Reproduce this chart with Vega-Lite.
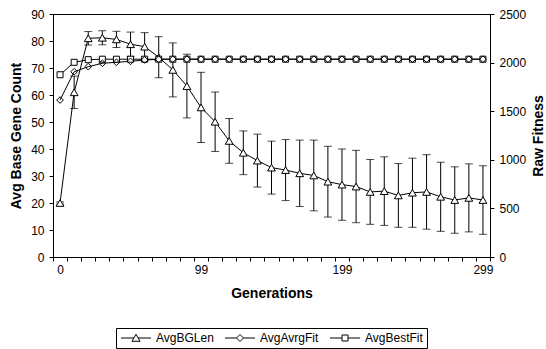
{
  "$schema": "https://vega.github.io/schema/vega-lite/v6.json",
  "width": 437,
  "height": 243,
  "autosize": {"type": "none"},
  "padding": {"left": 53, "top": 14, "right": 56, "bottom": 92},
  "background": "white",
  "config": {
    "font": "Liberation Sans",
    "view": {"stroke": "black", "strokeWidth": 1},
    "axis": {
      "grid": false,
      "domainColor": "black",
      "tickColor": "black",
      "labelColor": "black",
      "titleColor": "black",
      "labelFont": "Liberation Sans",
      "titleFont": "Liberation Sans",
      "labelFontSize": 12,
      "titleFontSize": 14,
      "titleFontWeight": "bold",
      "tickSize": 4
    }
  },
  "data": {
    "values": [
      {"gen": 0, "series": "AvgBGLen", "value": 20, "err": 0.4},
      {"gen": 9, "series": "AvgBGLen", "value": 61, "err": 6},
      {"gen": 19, "series": "AvgBGLen", "value": 81, "err": 2.5},
      {"gen": 29, "series": "AvgBGLen", "value": 81.2, "err": 2.6},
      {"gen": 39, "series": "AvgBGLen", "value": 80.6, "err": 3},
      {"gen": 49, "series": "AvgBGLen", "value": 78.8, "err": 4.5},
      {"gen": 59, "series": "AvgBGLen", "value": 77.9, "err": 5.2},
      {"gen": 69, "series": "AvgBGLen", "value": 74, "err": 7.6},
      {"gen": 79, "series": "AvgBGLen", "value": 69.3, "err": 10},
      {"gen": 89, "series": "AvgBGLen", "value": 63.3, "err": 11.8},
      {"gen": 99, "series": "AvgBGLen", "value": 55.4, "err": 13},
      {"gen": 109, "series": "AvgBGLen", "value": 50.1, "err": 11},
      {"gen": 119, "series": "AvgBGLen", "value": 43, "err": 8.3},
      {"gen": 129, "series": "AvgBGLen", "value": 38.6, "err": 8.1},
      {"gen": 139, "series": "AvgBGLen", "value": 35.7, "err": 9.8},
      {"gen": 149, "series": "AvgBGLen", "value": 33.1, "err": 9.8},
      {"gen": 159, "series": "AvgBGLen", "value": 32.2, "err": 11.3},
      {"gen": 169, "series": "AvgBGLen", "value": 31, "err": 12.3},
      {"gen": 179, "series": "AvgBGLen", "value": 30.2, "err": 13.1},
      {"gen": 189, "series": "AvgBGLen", "value": 27.9, "err": 13.1},
      {"gen": 199, "series": "AvgBGLen", "value": 26.8, "err": 13.2},
      {"gen": 209, "series": "AvgBGLen", "value": 26.1, "err": 13.4},
      {"gen": 219, "series": "AvgBGLen", "value": 24.1, "err": 12},
      {"gen": 229, "series": "AvgBGLen", "value": 24.4, "err": 12.7},
      {"gen": 239, "series": "AvgBGLen", "value": 22.8, "err": 11.8},
      {"gen": 249, "series": "AvgBGLen", "value": 23.8, "err": 12.8},
      {"gen": 259, "series": "AvgBGLen", "value": 24.1, "err": 13.8},
      {"gen": 269, "series": "AvgBGLen", "value": 22.3, "err": 12.8},
      {"gen": 279, "series": "AvgBGLen", "value": 21.1, "err": 12.3},
      {"gen": 289, "series": "AvgBGLen", "value": 21.9, "err": 12.6},
      {"gen": 299, "series": "AvgBGLen", "value": 21.1, "err": 12.7},

      {"gen": 0, "series": "AvgAvrgFit", "value": 1615},
      {"gen": 9, "series": "AvgAvrgFit", "value": 1906},
      {"gen": 19, "series": "AvgAvrgFit", "value": 1958},
      {"gen": 29, "series": "AvgAvrgFit", "value": 1993},
      {"gen": 39, "series": "AvgAvrgFit", "value": 2003},
      {"gen": 49, "series": "AvgAvrgFit", "value": 2013},
      {"gen": 59, "series": "AvgAvrgFit", "value": 2027},
      {"gen": 69, "series": "AvgAvrgFit", "value": 2034},
      {"gen": 79, "series": "AvgAvrgFit", "value": 2035},
      {"gen": 89, "series": "AvgAvrgFit", "value": 2035},
      {"gen": 99, "series": "AvgAvrgFit", "value": 2035},
      {"gen": 109, "series": "AvgAvrgFit", "value": 2035},
      {"gen": 119, "series": "AvgAvrgFit", "value": 2035},
      {"gen": 129, "series": "AvgAvrgFit", "value": 2035},
      {"gen": 139, "series": "AvgAvrgFit", "value": 2035},
      {"gen": 149, "series": "AvgAvrgFit", "value": 2035},
      {"gen": 159, "series": "AvgAvrgFit", "value": 2035},
      {"gen": 169, "series": "AvgAvrgFit", "value": 2035},
      {"gen": 179, "series": "AvgAvrgFit", "value": 2035},
      {"gen": 189, "series": "AvgAvrgFit", "value": 2035},
      {"gen": 199, "series": "AvgAvrgFit", "value": 2035},
      {"gen": 209, "series": "AvgAvrgFit", "value": 2035},
      {"gen": 219, "series": "AvgAvrgFit", "value": 2035},
      {"gen": 229, "series": "AvgAvrgFit", "value": 2035},
      {"gen": 239, "series": "AvgAvrgFit", "value": 2035},
      {"gen": 249, "series": "AvgAvrgFit", "value": 2035},
      {"gen": 259, "series": "AvgAvrgFit", "value": 2035},
      {"gen": 269, "series": "AvgAvrgFit", "value": 2035},
      {"gen": 279, "series": "AvgAvrgFit", "value": 2035},
      {"gen": 289, "series": "AvgAvrgFit", "value": 2035},
      {"gen": 299, "series": "AvgAvrgFit", "value": 2035},

      {"gen": 0, "series": "AvgBestFit", "value": 1875},
      {"gen": 9, "series": "AvgBestFit", "value": 2003},
      {"gen": 19, "series": "AvgBestFit", "value": 2030},
      {"gen": 29, "series": "AvgBestFit", "value": 2035},
      {"gen": 39, "series": "AvgBestFit", "value": 2035},
      {"gen": 49, "series": "AvgBestFit", "value": 2035},
      {"gen": 59, "series": "AvgBestFit", "value": 2035},
      {"gen": 69, "series": "AvgBestFit", "value": 2035},
      {"gen": 79, "series": "AvgBestFit", "value": 2035},
      {"gen": 89, "series": "AvgBestFit", "value": 2035},
      {"gen": 99, "series": "AvgBestFit", "value": 2035},
      {"gen": 109, "series": "AvgBestFit", "value": 2035},
      {"gen": 119, "series": "AvgBestFit", "value": 2035},
      {"gen": 129, "series": "AvgBestFit", "value": 2035},
      {"gen": 139, "series": "AvgBestFit", "value": 2035},
      {"gen": 149, "series": "AvgBestFit", "value": 2035},
      {"gen": 159, "series": "AvgBestFit", "value": 2035},
      {"gen": 169, "series": "AvgBestFit", "value": 2035},
      {"gen": 179, "series": "AvgBestFit", "value": 2035},
      {"gen": 189, "series": "AvgBestFit", "value": 2035},
      {"gen": 199, "series": "AvgBestFit", "value": 2035},
      {"gen": 209, "series": "AvgBestFit", "value": 2035},
      {"gen": 219, "series": "AvgBestFit", "value": 2035},
      {"gen": 229, "series": "AvgBestFit", "value": 2035},
      {"gen": 239, "series": "AvgBestFit", "value": 2035},
      {"gen": 249, "series": "AvgBestFit", "value": 2035},
      {"gen": 259, "series": "AvgBestFit", "value": 2035},
      {"gen": 269, "series": "AvgBestFit", "value": 2035},
      {"gen": 279, "series": "AvgBestFit", "value": 2035},
      {"gen": 289, "series": "AvgBestFit", "value": 2035},
      {"gen": 299, "series": "AvgBestFit", "value": 2035}
    ]
  },
  "encoding": {
    "x": {
      "field": "gen",
      "type": "ordinal",
      "scale": {"type": "band", "paddingInner": 0, "paddingOuter": 0},
      "axis": {
        "tickBand": "extent",
        "labelAngle": 0,
        "labelOverlap": false,
        "labelPadding": 3,
        "labelExpr": "indexof([0, 99, 199, 299], datum.value) >= 0 ? datum.label : ''",
        "title": "Generations",
        "titlePadding": 11
      }
    }
  },
  "layer": [
    {
      "transform": [{"filter": "datum.series === 'AvgBGLen'"}],
      "encoding": {
        "y": {
          "field": "value",
          "type": "quantitative",
          "scale": {"domain": [0, 90], "nice": false, "zero": true},
          "axis": {
            "orient": "left",
            "values": [0, 10, 20, 30, 40, 50, 60, 70, 80, 90],
            "title": "Avg Base Gene Count",
            "labelPadding": 5,
            "titlePadding": 7
          }
        }
      },
      "layer": [
        {
          "mark": {"type": "errorbar", "color": "black", "thickness": 1, "ticks": {"size": 8, "color": "black"}},
          "encoding": {"yError": {"field": "err"}}
        },
        {
          "mark": {"type": "line", "color": "black", "strokeWidth": 1}
        },
        {
          "mark": {"type": "point", "shape": "triangle-up", "size": 60, "filled": true, "fill": "white", "stroke": "black", "strokeWidth": 1, "opacity": 1}
        }
      ]
    },
    {
      "encoding": {
        "y": {
          "field": "value",
          "type": "quantitative",
          "scale": {"domain": [0, 2500], "nice": false, "zero": true},
          "axis": {
            "orient": "right",
            "values": [0, 500, 1000, 1500, 2000, 2500],
            "format": "d",
            "title": "Raw Fitness",
            "titleAngle": -90,
            "titleBaseline": "top",
            "labelPadding": 5,
            "titlePadding": 6
          }
        }
      },
      "layer": [
        {
          "transform": [{"filter": "datum.series !== 'AvgBGLen'"}],
          "mark": {"type": "line", "color": "black", "strokeWidth": 1},
          "encoding": {"detail": {"field": "series", "type": "nominal"}}
        },
        {
          "transform": [{"filter": "datum.series === 'AvgBestFit'"}],
          "mark": {"type": "point", "shape": "square", "size": 36, "filled": true, "fill": "white", "stroke": "black", "strokeWidth": 1, "opacity": 1}
        },
        {
          "transform": [{"filter": "datum.series === 'AvgAvrgFit'"}],
          "mark": {"type": "point", "shape": "diamond", "size": 45, "filled": false, "stroke": "black", "strokeWidth": 1, "opacity": 1}
        },
        {
          "transform": [{"filter": "datum.series !== 'AvgBGLen'"}],
          "mark": {"type": "point", "opacity": 0, "filled": false, "stroke": "black"},
          "encoding": {
            "shape": {
              "field": "series",
              "type": "nominal",
              "scale": {
                "domain": ["AvgBGLen", "AvgAvrgFit", "AvgBestFit"],
                "range": [
                  "M-1,0H1.57M2.43,0H5M2,-0.75L2.8,0.65L1.2,0.65Z",
                  "M-1,0H1.3M2.7,0H5M1.3,0L2,-0.7L2.7,0L2,0.7Z",
                  "M-1,0H1.4M2.6,0H5M1.4,-0.6H2.6V0.6H1.4Z"
                ]
              },
              "legend": {
                "title": null,
                "orient": "none",
                "legendX": 63,
                "legendY": 314,
                "direction": "horizontal",
                "strokeColor": "black",
                "fillColor": "white",
                "padding": 4,
                "symbolSize": 100,
                "symbolStrokeWidth": 1,
                "symbolStrokeColor": "black",
                "symbolFillColor": "white",
                "symbolOpacity": 1,
                "labelFont": "Liberation Sans",
                "labelFontSize": 12,
                "labelColor": "black",
                "labelOffset": 24,
                "columnPadding": 9
              }
            }
          }
        }
      ]
    }
  ],
  "resolve": {"scale": {"y": "independent"}}
}
